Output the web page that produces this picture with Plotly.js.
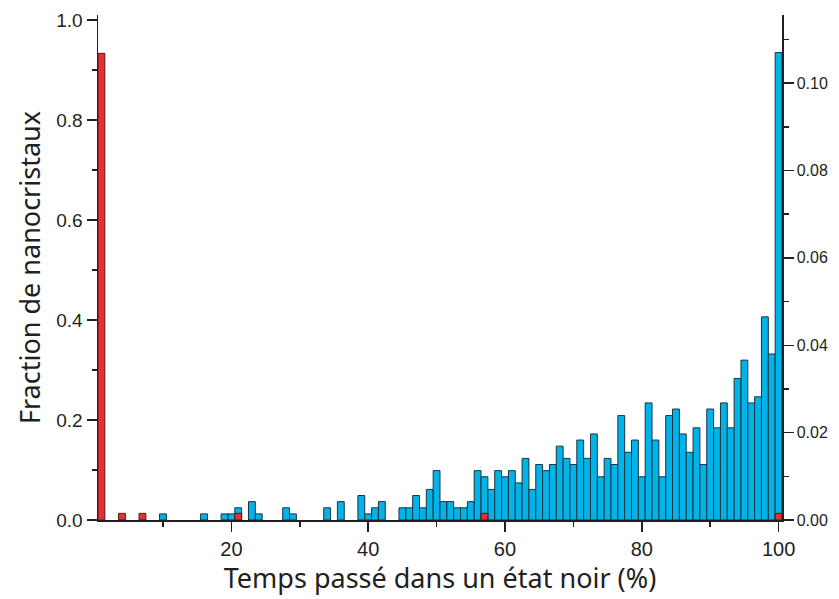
<!DOCTYPE html>
<html>
<head>
<meta charset="utf-8">
<script src="https://cdn.plot.ly/plotly-3.0.1.min.js"></script>
<style>html,body{margin:0;padding:0;background:#fff;}#chart{width:839px;height:599px;}</style>
</head>
<body>
<div id="chart"></div>
<script>
// Blue histogram (right axis): bin position (%) and fraction
var blueBins = [10,16,19,20,21,23,24,28,29,34,36,39,40,41,42,45,46,47,48,49,50,51,52,53,54,55,56,57,58,59,60,61,62,63,64,65,66,67,68,69,70,71,72,73,74,75,76,77,78,79,80,81,82,83,84,85,86,87,88,89,90,91,92,93,94,95,96,97,98,99,100];
var blueValues = [0.0014,0.0014,0.0014,0.0014,0.0028,0.0042,0.0014,0.0028,0.0014,0.0028,0.0042,0.0056,0.0014,0.0028,0.0042,0.0028,0.0028,0.0056,0.0028,0.0070,0.0113,0.0042,0.0042,0.0028,0.0028,0.0042,0.0113,0.0099,0.0070,0.0113,0.0099,0.0113,0.0085,0.0141,0.0070,0.0127,0.0113,0.0127,0.0169,0.0141,0.0127,0.0183,0.0141,0.0197,0.0099,0.0141,0.0127,0.0239,0.0155,0.0183,0.0099,0.0268,0.0183,0.0099,0.0239,0.0254,0.0197,0.0155,0.0211,0.0127,0.0254,0.0211,0.0268,0.0211,0.0324,0.0366,0.0268,0.0282,0.0465,0.0380,0.1070];
// Red histogram (left axis)
var redBins = [1,4,7,21,57,100];
var redValues = [0.9333,0.0133,0.0133,0.0133,0.0133,0.0133];
// Axis labels
var xTickVals = [20,40,60,80,100];
var xTickText = ['20','40','60','80','100'];
var leftTickVals = [0,0.2,0.4,0.6,0.8,1.0];
var leftTickText = ['0.0','0.2','0.4','0.6','0.8','1.0'];
var rightTickVals = [0,0.02,0.04,0.06,0.08,0.10];
var rightTickText = ['0.00','0.02','0.04','0.06','0.08','0.10'];
var xTitle = 'Temps passé dans un état noir (%)';
var yTitle = 'Fraction de nanocristaux';

var axisColor = '#231f20';
var tickFont = 'Liberation Sans, Arial, sans-serif';
var titleFont = 'Noto Sans, Open Sans, sans-serif';

var traces = [
  {
    type: 'bar', x: blueBins, y: blueValues, yaxis: 'y', width: 1,
    marker: {color: '#00b3e8', line: {color: '#1c3440', width: 1}},
    hoverinfo: 'x+y'
  },
  {
    type: 'bar', x: redBins, y: redValues, yaxis: 'y2', width: 1,
    marker: {color: '#e8302e', line: {color: '#4a1a1a', width: 1}},
    hoverinfo: 'x+y'
  }
];

var layout = {
  width: 839, height: 599,
  margin: {l: 98, r: 57, t: 15, b: 79, pad: 0},
  paper_bgcolor: '#ffffff', plot_bgcolor: '#ffffff',
  showlegend: false, barmode: 'overlay', bargap: 0,
  xaxis: {
    range: [0.5, 100.5], showgrid: false, zeroline: false,
    showline: true, linecolor: axisColor, linewidth: 1.5,
    ticks: 'outside', ticklen: 10, tickwidth: 1.5, tickcolor: axisColor,
    tickvals: xTickVals, ticktext: xTickText,
    tickfont: {family: tickFont, size: 20, color: '#231f20'},
    minor: {tickvals: [10,30,50,70,90], ticklen: 5, tickwidth: 1.5, tickcolor: axisColor, ticks: 'outside'},
    title: {text: xTitle, font: {family: titleFont, size: 27, color: '#231f20'}, standoff: 8}
  },
  yaxis: {
    side: 'right', range: [0, 0.1156], showgrid: false, zeroline: false,
    showline: true, linecolor: axisColor, linewidth: 1.5,
    ticks: 'outside', ticklen: 10, tickwidth: 1.5, tickcolor: axisColor,
    tickvals: rightTickVals, ticktext: rightTickText,
    tickfont: {family: tickFont, size: 16, color: '#231f20'},
    minor: {tickvals: [0.01,0.03,0.05,0.07,0.09,0.11], ticklen: 5, tickwidth: 1.5, tickcolor: axisColor, ticks: 'outside'}
  },
  yaxis2: {
    overlaying: 'y', side: 'left', anchor: 'x', range: [0, 1.01], showgrid: false, zeroline: false,
    showline: true, linecolor: axisColor, linewidth: 1.5,
    ticks: 'outside', ticklen: 10, tickwidth: 1.5, tickcolor: axisColor,
    tickvals: leftTickVals, ticktext: leftTickText,
    tickfont: {family: tickFont, size: 19, color: '#231f20'},
    minor: {tickvals: [0.1,0.3,0.5,0.7,0.9], ticklen: 5, tickwidth: 1.5, tickcolor: axisColor, ticks: 'outside'},
    title: {text: yTitle, font: {family: titleFont, size: 27, color: '#231f20'}, standoff: 8}
  }
};

Plotly.newPlot('chart', traces, layout, {displayModeBar: false, staticPlot: true});
</script>
</body>
</html>
